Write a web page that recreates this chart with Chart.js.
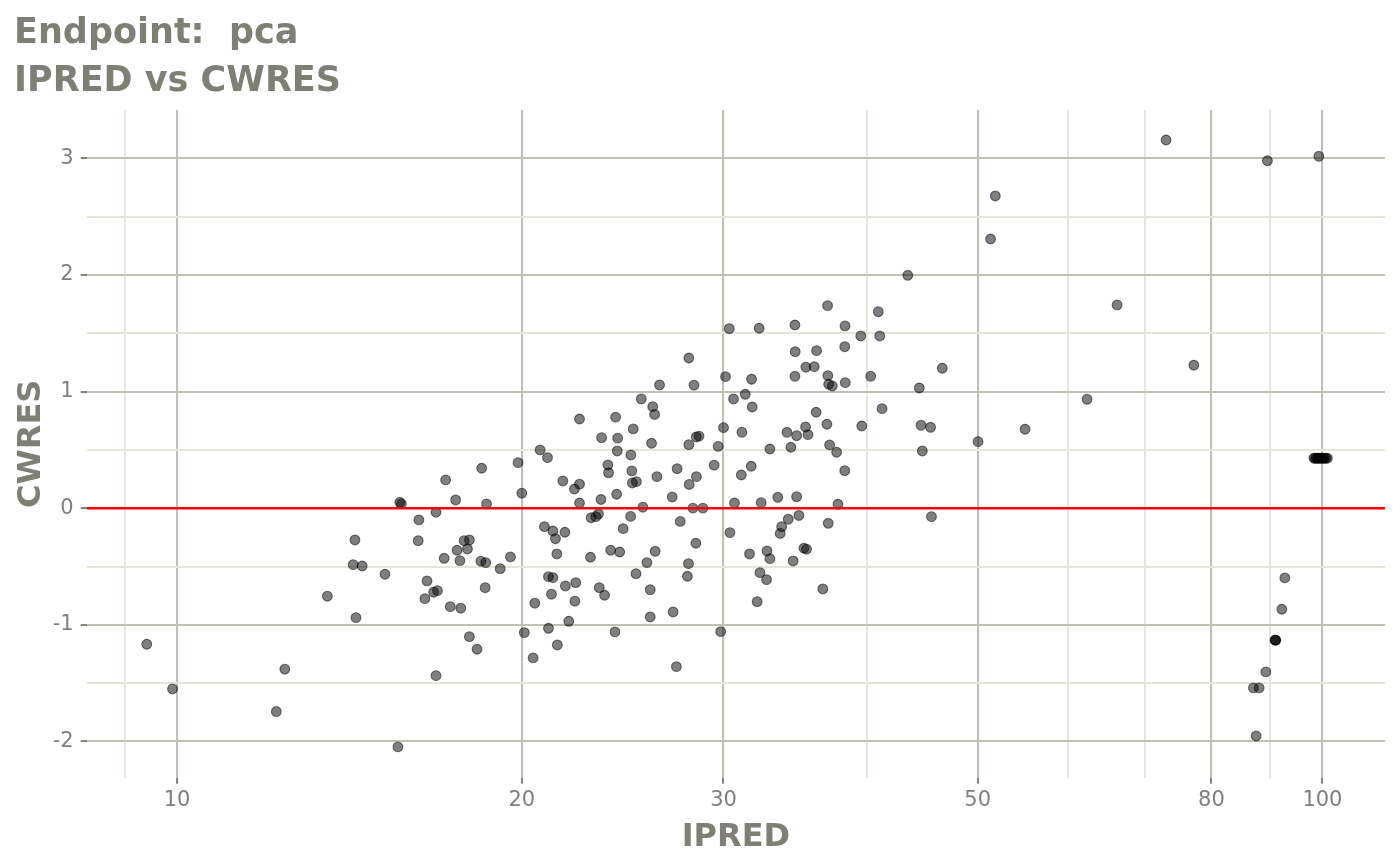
<!DOCTYPE html>
<html>
<head>
<meta charset="utf-8">
<script src="https://cdn.jsdelivr.net/npm/chart.js@4.4.1/dist/chart.umd.min.js"></script>
<style>
  html, body { margin: 0; padding: 0; background: #ffffff; }
  #wrap { width: 1400px; height: 865px; }
</style>
</head>
<body>
<div id="wrap"><canvas id="myChart" width="1400" height="865"></canvas></div>
<script>
// IPRED vs CWRES
var ipred = [
  9.41, 9.91, 12.21, 12.42, 13.53, 15.59, 14.30, 14.25, 14.51, 15.19,
  14.33, 15.65, 15.70, 16.26, 16.24, 16.83, 17.16, 17.51, 16.53, 16.46,
  16.75, 16.88, 17.11, 17.32, 17.56, 17.66, 17.69, 17.81, 18.00, 17.93,
  18.00, 18.28, 16.83, 18.42, 18.60, 18.45, 18.63, 18.58, 19.15, 19.55,
  19.85, 20.00, 20.10, 20.46, 20.53, 20.75, 21.06, 20.93, 21.29, 21.40,
  21.81, 21.10, 21.29, 21.23, 21.10, 21.46, 21.48, 21.72, 21.83, 21.98,
  22.23, 22.46, 22.46, 22.29, 22.25, 22.96, 22.99, 23.21, 23.33, 23.37,
  23.62, 23.45, 23.48, 23.78, 23.81, 23.91, 24.35, 24.12, 24.20, 24.23,
  24.25, 24.52, 24.90, 24.98, 25.18, 24.89, 26.38, 28.27, 25.43, 26.02,
  26.12, 22.46, 24.15, 25.02, 25.96, 28.40, 28.56, 27.98, 29.68, 24.95,
  27.33, 29.44, 26.24, 28.41, 28.00, 27.06, 25.51, 28.21, 28.78, 27.50,
  28.38, 26.15, 25.72, 27.96, 27.90, 25.16, 25.89, 25.89, 27.11, 29.83,
  27.29, 36.98, 40.95, 30.35, 32.23, 34.63, 38.30, 39.53, 41.07, 34.65,
  36.17, 38.28, 27.98, 35.40, 36.00, 30.12, 31.74, 34.63, 37.00, 37.06,
  37.33, 38.32, 40.33, 30.61, 31.34, 31.78, 41.26, 36.14, 36.93, 39.61,
  30.00, 31.13, 34.08, 34.75, 35.38, 35.55, 32.93, 34.35, 37.13, 37.66,
  31.09, 31.72, 38.28, 30.67, 32.36, 33.46, 34.75, 37.76, 30.39, 34.17,
  34.91, 33.72, 33.62, 37.03, 45.57, 31.61, 32.74, 32.93, 35.26, 35.45,
  34.51, 32.28, 32.71, 36.63, 32.10, 51.81, 51.32, 43.45, 66.18, 46.57,
  44.47, 62.30, 44.62, 45.49, 55.00, 50.04, 44.74, 73.03, 89.53, 99.28,
  77.22, 92.72, 92.16, 90.90, 91.00, 91.05, 89.24, 87.05, 88.05, 87.52,
  98.3, 98.5, 98.8, 99.0, 99.2, 99.5, 99.7, 99.9, 100.2, 100.4, 100.7, 101.0
];
var cwres = [
  -1.166, -1.549, -1.743, -1.380, -0.754, -2.046, -0.272, -0.483, -0.495, -0.566,
  -0.938, 0.051, 0.037, -0.100, -0.278, -0.034, 0.243, 0.071, -0.623, -0.775,
  -0.720, -0.706, -0.429, -0.843, -0.360, -0.449, -0.857, -0.278, -0.272, -0.349,
  -1.101, -1.209, -1.435, -0.454, -0.466, 0.343, 0.037, -0.681, -0.518, -0.417,
  0.391, 0.129, -1.066, -1.283, -0.814, 0.500, 0.434, -0.158, -0.195, -0.261,
  -0.206, -0.586, -0.595, -0.737, -1.029, -0.392, -1.172, 0.234, -0.666, -0.969,
  0.165, 0.206, 0.045, -0.638, -0.797, -0.420, -0.081, -0.072, -0.049, -0.681,
  -0.746, 0.075, 0.605, 0.371, 0.304, -0.360, -0.375, -1.060, 0.120, 0.491,
  0.601, -0.175, 0.457, 0.217, 0.228, -0.070, 1.057, 1.055, 0.937, 0.871,
  0.804, 0.765, 0.781, 0.680, 0.557, 0.611, 0.618, 0.545, 0.530, 0.320,
  0.339, 0.369, 0.271, 0.271, 0.204, 0.097, 0.009, 0.001, 0.001, -0.113,
  -0.300, -0.369, -0.466, -0.475, -0.583, -0.561, -0.698, -0.932, -0.889, -1.058,
  -1.358, 1.737, 1.685, 1.539, 1.543, 1.571, 1.563, 1.477, 1.477, 1.342,
  1.351, 1.385, 1.288, 1.209, 1.214, 1.128, 1.106, 1.131, 1.137, 1.063,
  1.048, 1.077, 1.131, 0.937, 0.977, 0.868, 0.854, 0.823, 0.720, 0.705,
  0.691, 0.651, 0.651, 0.622, 0.697, 0.631, 0.508, 0.523, 0.543, 0.480,
  0.285, 0.360, 0.322, 0.045, 0.048, 0.094, 0.099, 0.034, -0.209, -0.094,
  -0.062, -0.158, -0.216, -0.129, -0.072, -0.392, -0.366, -0.432, -0.343, -0.351,
  -0.452, -0.552, -0.612, -0.692, -0.801, 2.677, 2.308, 1.997, 1.743, 1.200,
  1.031, 0.934, 0.711, 0.694, 0.677, 0.571, 0.491, 3.157, 2.979, 3.017,
  1.226, -0.597, -0.866, -1.131, -1.131, -1.131, -1.403, -1.540, -1.540, -1.952,
  0.429, 0.429, 0.429, 0.429, 0.429, 0.429, 0.429, 0.429, 0.429, 0.429, 0.429, 0.429
];

var xMajor = [10, 20, 30, 50, 80, 100];
var xMinor = [9, 40, 60, 70, 90];
var yMajor = [-2, -1, 0, 1, 2, 3];
var yMinor = [-1.5, -0.5, 0.5, 1.5, 2.5];
var xRange = [8.34, 113.4];
var yRange = [-2.31, 3.414];
var refY = 0;

var titleColor = '#7f7f76';
var tickColor = '#808080';
var majorGrid = '#c0c0b4';
var minorGrid = '#e6e6da';

var points = ipred.map(function (v, i) { return { x: v, y: cwres[i] }; });

function isMajor(list, ctx) {
  return ctx.tick && list.indexOf(ctx.tick.value) >= 0;
}

var config = {
  type: 'scatter',
  data: {
    datasets: [
      {
        type: 'line',
        data: [{ x: xRange[0], y: refY }, { x: xRange[1], y: refY }],
        borderColor: '#ff0000',
        borderWidth: 2.6,
        pointRadius: 0,
        order: 0
      },
      {
        data: points,
        backgroundColor: 'rgba(0,0,0,0.5)',
        borderColor: 'rgba(0,0,0,0.5)',
        borderWidth: 1.1,
        pointRadius: 4.9,
        pointHoverRadius: 4.9,
        order: 1
      }
    ]
  },
  options: {
    responsive: false,
    animation: false,
    layout: { padding: { left: 14, right: 15, top: 0, bottom: 0 } },
    plugins: {
      legend: { display: false },
      tooltip: { enabled: false },
      title: {
        display: true,
        text: ['Endpoint:  pca', 'IPRED vs CWRES'],
        align: 'start',
        color: titleColor,
        font: { family: 'DejaVu Sans', size: 35, weight: 'bold', lineHeight: 48.5 / 35 },
        padding: { top: 9.5, bottom: 3.5 }
      }
    },
    scales: {
      x: {
        type: 'logarithmic',
        min: xRange[0],
        max: xRange[1],
        afterBuildTicks: function (scale) {
          scale.ticks = xMajor.concat(xMinor).sort(function (a, b) { return a - b; })
            .map(function (v) { return { value: v }; });
        },
        afterFit: function (scale) { scale.height = 87.3; },
        border: { display: false },
        grid: {
          color: function (ctx) { return isMajor(xMajor, ctx) ? majorGrid : minorGrid; },
          lineWidth: function (ctx) { return isMajor(xMajor, ctx) ? 2.1 : 1.9; },
          tickColor: function (ctx) { return isMajor(xMajor, ctx) ? '#7f7f7f' : 'rgba(0,0,0,0)'; },
          tickLength: 6,
          tickWidth: 2
        },
        ticks: {
          autoSkip: false,
          maxRotation: 0,
          minRotation: 0,
          padding: 4.5,
          color: tickColor,
          font: { family: 'DejaVu Sans', size: 21 },
          callback: function (v) { return xMajor.indexOf(v) >= 0 ? String(v) : ''; }
        },
        title: {
          display: true,
          text: 'IPRED',
          color: titleColor,
          font: { family: 'DejaVu Sans', size: 32, weight: 'bold', lineHeight: 1 },
          padding: { top: 0, bottom: 11.5 }
        }
      },
      y: {
        type: 'linear',
        min: yRange[0],
        max: yRange[1],
        afterBuildTicks: function (scale) {
          scale.ticks = yMajor.concat(yMinor).sort(function (a, b) { return a - b; })
            .map(function (v) { return { value: v }; });
        },
        afterFit: function (scale) { scale.width = 72.7; },
        border: { display: false },
        grid: {
          color: function (ctx) { return isMajor(yMajor, ctx) ? majorGrid : minorGrid; },
          lineWidth: function (ctx) { return isMajor(yMajor, ctx) ? 2.1 : 1.9; },
          tickColor: function (ctx) { return isMajor(yMajor, ctx) ? '#7f7f7f' : 'rgba(0,0,0,0)'; },
          tickLength: 6,
          tickWidth: 2
        },
        ticks: {
          autoSkip: false,
          padding: 7,
          color: tickColor,
          font: { family: 'DejaVu Sans', size: 21 },
          callback: function (v) { return yMajor.indexOf(v) >= 0 ? String(v) : ''; }
        },
        title: {
          display: true,
          text: 'CWRES',
          color: titleColor,
          font: { family: 'DejaVu Sans', size: 32, weight: 'bold', lineHeight: 1 },
          padding: { top: 1.5, bottom: 0 }
        }
      }
    }
  }
};

var ctx = document.getElementById('myChart').getContext('2d');
var chart = new Chart(ctx, config);
</script>
</body>
</html>
